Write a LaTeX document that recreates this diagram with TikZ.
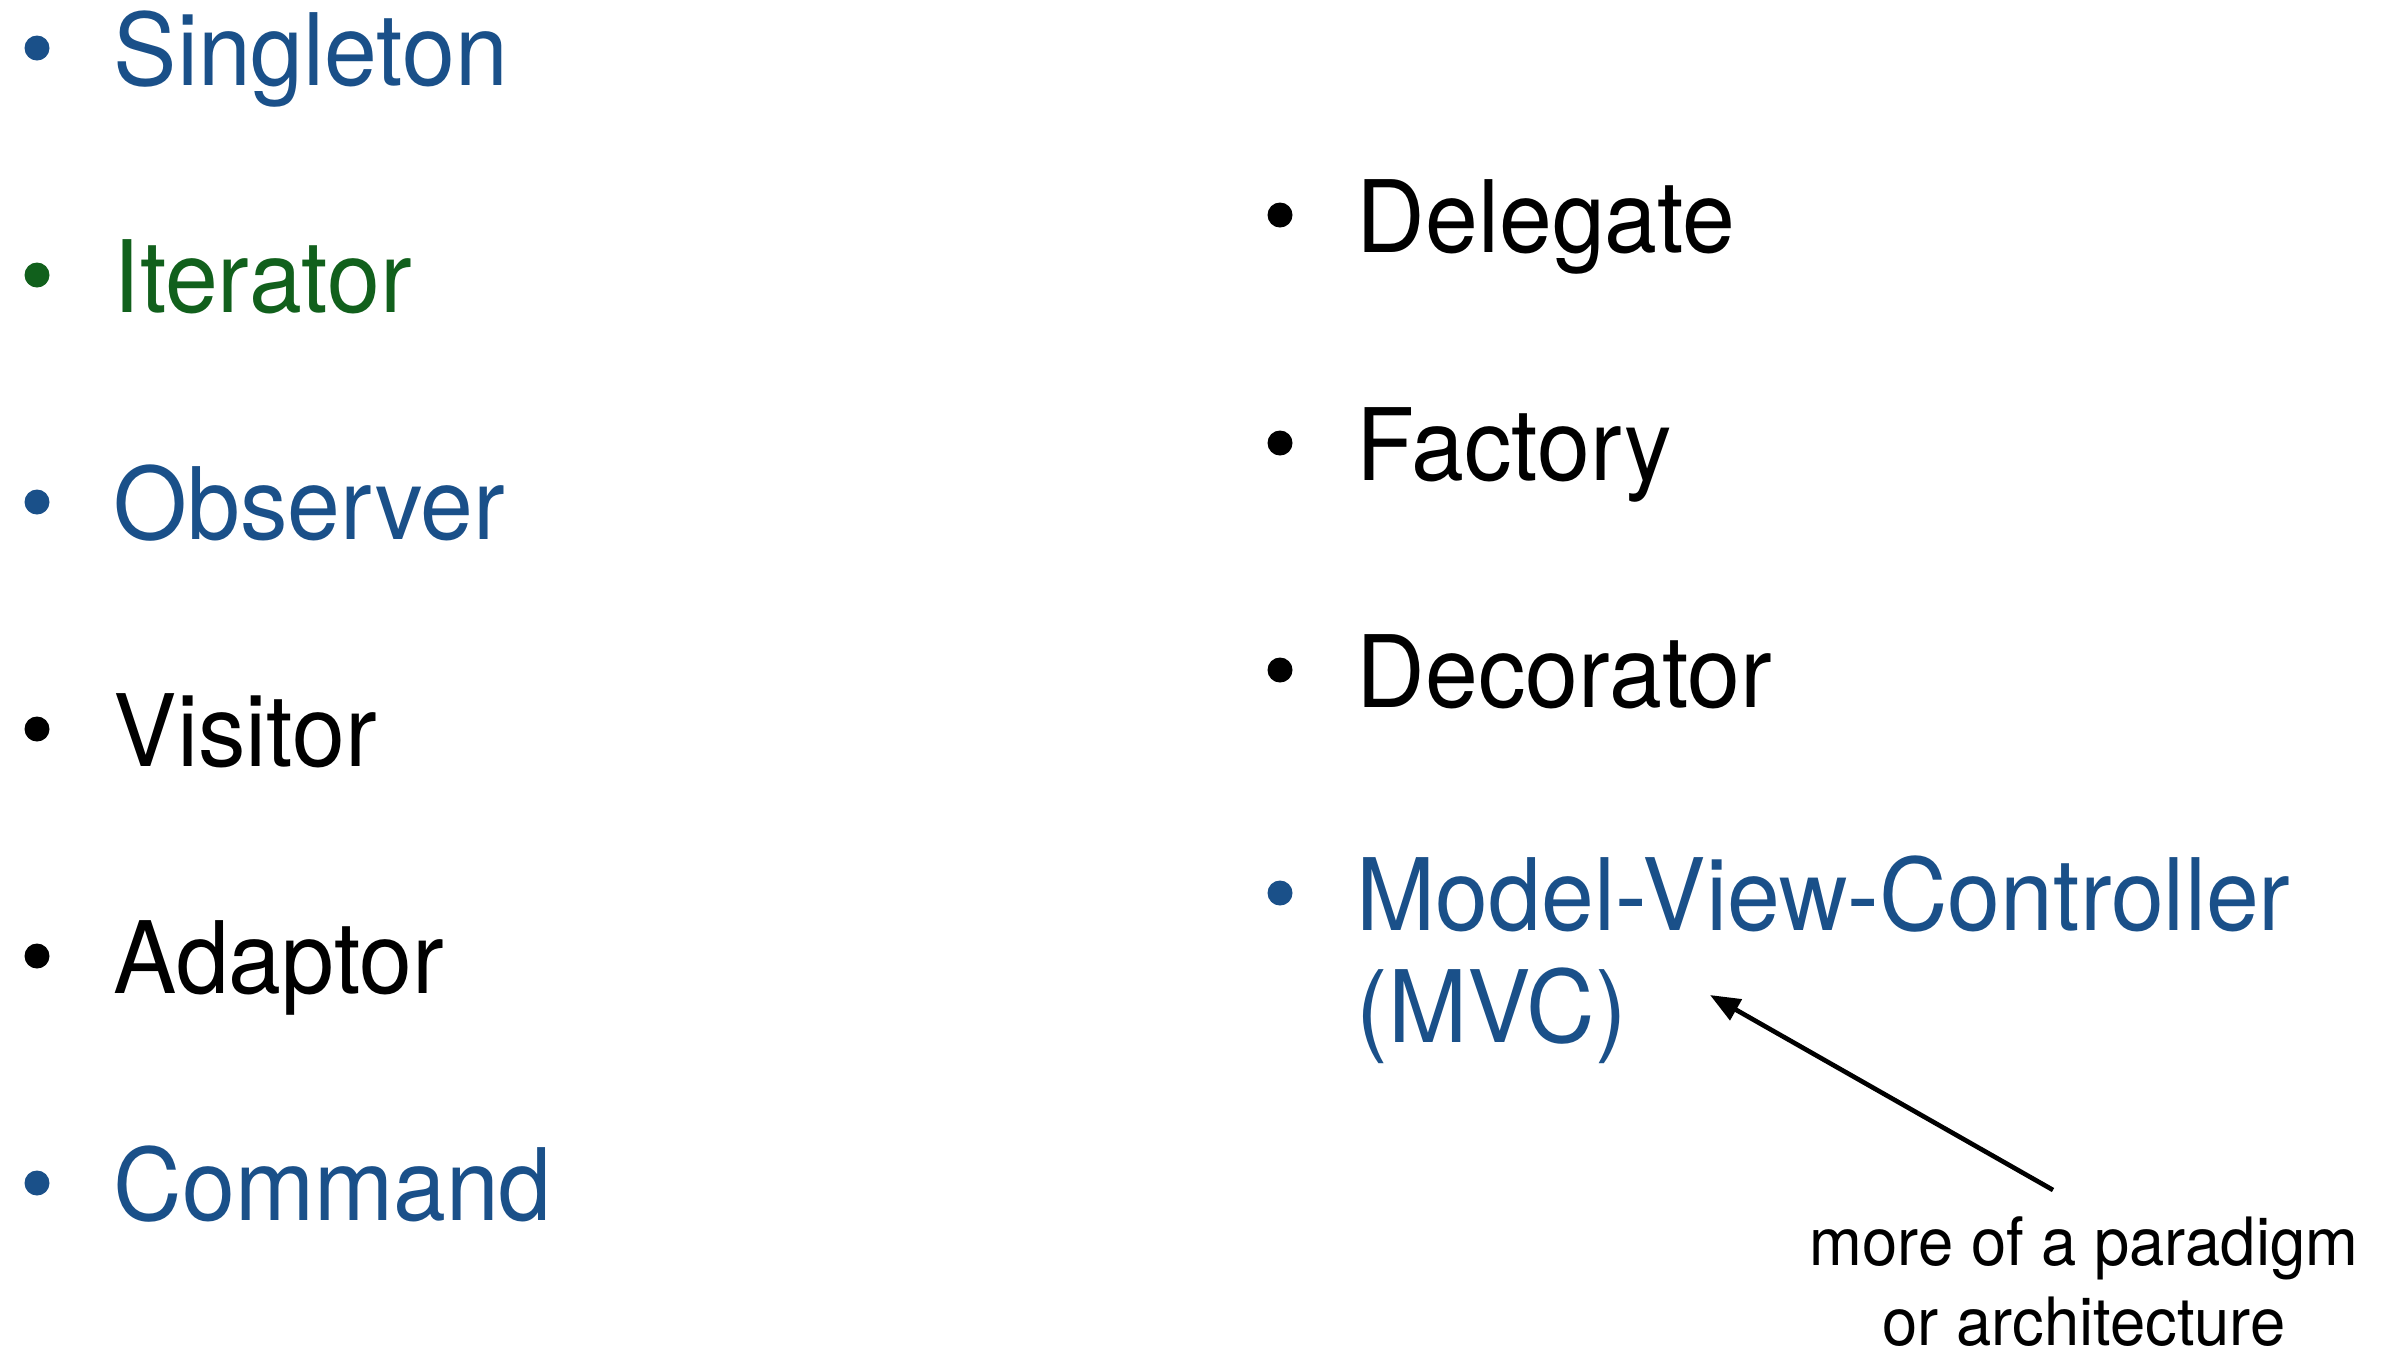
\documentclass[tikz,border=0pt]{standalone}
\usepackage{fontspec}
\setmainfont{TeX Gyre Heros}[FakeStretch=0.95]
\usetikzlibrary{arrows.meta}
\definecolor{kblue}{RGB}{26,80,137}
\definecolor{kgreen}{RGB}{17,96,28}
\tikzset{
  item/.style={anchor=base west, inner sep=0pt, font=\fontsize{30}{33.6}\selectfont},
  dot/.style={circle, fill, inner sep=0pt, minimum size=7.5pt},
  note/.style={anchor=base, inner sep=0pt, font=\fontsize{20}{24}\selectfont}
}
\begin{document}
\begin{tikzpicture}[x=0.3pt,y=-0.3pt]
\useasboundingbox (0,0) rectangle (2396,1354);
% left column
\node[dot, kblue]  (b1) at (37,48) {};
\node[item, kblue] (singleton) at (113,85) {Singleton};
\node[dot, kgreen]  (b2) at (37,275) {};
\node[item, kgreen] (iterator) at (113,312) {Iterator};
\node[dot, kblue]  (b3) at (37,502) {};
\node[item, kblue] (observer) at (113,539) {Observer};
\node[dot, black]  (b4) at (37,729) {};
\node[item, black] (visitor) at (113,766) {Visitor};
\node[dot, black]  (b5) at (37,956) {};
\node[item, black] (adaptor) at (113,993) {Adaptor};
\node[dot, kblue]  (b6) at (37,1183) {};
\node[item, kblue] (command) at (113,1220) {Command};
% right column
\node[dot, black]  (r1) at (1280,215) {};
\node[item, black] (delegate) at (1356,252) {Delegate};
\node[dot, black]  (r2) at (1280,443) {};
\node[item, black] (factory) at (1356,480) {Factory};
\node[dot, black]  (r3) at (1280,670) {};
\node[item, black] (decorator) at (1356,707) {Decorator};
\node[dot, kblue]  (r4) at (1280,893) {};
\node[item, kblue] (mvc) at (1356,930) {Model-View-Controller};
\node[item, kblue] (mvc2) at (1356,1042) {(MVC)};
% annotation
\node[note] (remark) at (2084,1265) {more of a paradigm};
\node[note] (remark2) at (2084,1345) {or architecture};
\coordinate (tail) at (2053,1190);
\coordinate (tip) at (1710,995);
\draw[line width=1.4pt, -{Triangle[length=9pt,width=7pt]}] (tail) -- (tip);
\end{tikzpicture}
\end{document}
